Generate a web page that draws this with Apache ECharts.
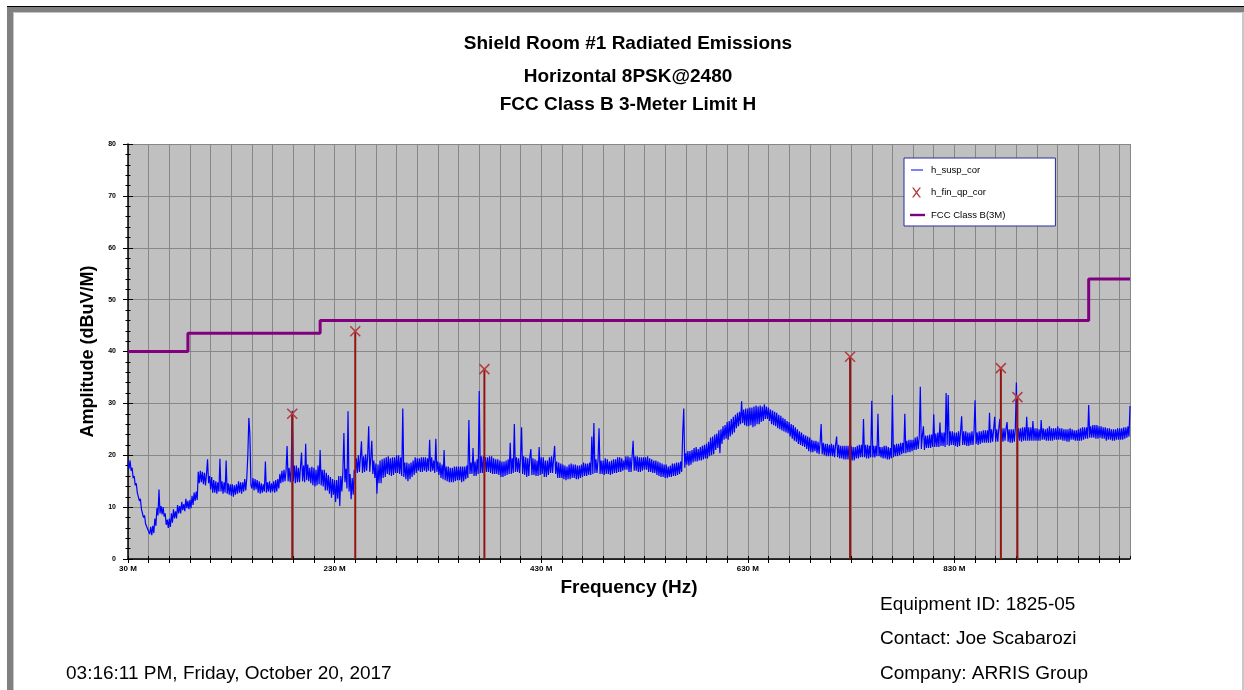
<!DOCTYPE html>
<html>
<head>
<meta charset="utf-8">
<title>Shield Room #1 Radiated Emissions</title>
<script src="https://cdn.jsdelivr.net/npm/echarts@6/dist/echarts.min.js"></script>
<style>
  html, body { margin: 0; padding: 0; background: #fff; }
  #chart { width: 1244px; height: 690px; }
</style>
</head>
<body>
<div id="chart"></div>
<script>
// h_susp_cor: peak trace, one reading per MHz from 30 MHz up to 1000 MHz
// (readings swing between the top and bottom of the noisy band in the picture)
const traceStart = 30
const traceStep = 1
const traceVals = [
  18.6, 17.4, 19.0, 17.0, 17.6, 15.6, 16.0, 14.2, 14.6, 12.8, 13.0, 11.2, 11.6, 9.6, 9.8, 8.0, 8.4, 6.8, 7.0, 5.8,           // 30
  6.0, 4.8, 6.2, 4.6, 6.4, 5.0, 7.8, 6.4, 9.8, 8.4, 13.4, 8.8, 10.2, 8.6, 10.0, 8.2, 8.8, 6.6, 7.6, 6.0,                    // 50
  7.8, 6.2, 8.8, 7.0, 9.6, 7.8, 9.2, 7.8, 10.4, 8.8, 10.2, 8.8, 11.0, 9.4, 10.6, 9.2, 11.6, 9.8, 11.2, 9.6,                 // 70
  11.4, 9.8, 12.2, 10.4, 12.8, 11.2, 13.0, 11.4, 16.8, 14.6, 17.0, 14.8, 16.8, 14.4, 16.6, 14.2, 16.4, 19.2, 14.6, 16.0,    // 90
  13.4, 15.8, 12.8, 15.2, 12.8, 15.0, 12.6, 14.8, 13.0, 19.3, 13.0, 15.0, 12.6, 14.8, 12.8, 19.0, 12.6, 14.6, 12.4, 14.4,   // 110
  12.2, 14.4, 12.0, 14.2, 12.4, 14.4, 12.6, 15.0, 12.8, 14.8, 12.6, 14.8, 13.0, 15.4, 13.2, 15.6, 20.0, 27.2, 24.0, 14.2,   // 130
  13.6, 15.6, 13.2, 15.4, 13.4, 15.2, 12.8, 15.0, 12.6, 14.6, 12.8, 14.4, 13.0, 18.8, 12.8, 14.8, 13.0, 15.0, 12.8, 14.6,   // 150
  13.0, 15.0, 12.8, 15.2, 13.0, 15.4, 13.6, 16.4, 14.6, 17.0, 14.8, 17.2, 15.0, 17.0, 21.8, 15.0, 17.6, 14.8, 17.6, 28.6,   // 170
  15.0, 18.0, 14.6, 18.0, 14.8, 17.6, 14.8, 17.8, 20.5, 15.0, 18.0, 14.8, 22.2, 15.2, 18.2, 15.0, 17.6, 14.6, 17.8, 14.2,   // 190
  17.6, 14.0, 17.2, 14.2, 18.0, 14.4, 21.0, 14.2, 17.2, 14.0, 17.2, 13.2, 16.6, 13.2, 16.2, 12.6, 15.8, 11.8, 15.4, 12.4,   // 210
  15.2, 11.0, 15.2, 11.6, 16.0, 10.2, 16.0, 13.0, 16.8, 24.3, 14.8, 17.4, 13.6, 28.5, 13.0, 16.4, 11.5, 15.6, 12.4, 17.2,   // 230
  16.4, 19.4, 16.6, 20.0, 16.8, 19.6, 22.7, 16.6, 19.8, 16.8, 20.2, 17.0, 19.8, 25.6, 16.8, 19.4, 22.8, 16.4, 19.0, 15.6,   // 250
  18.4, 12.6, 18.2, 14.6, 19.0, 14.6, 19.2, 15.6, 19.4, 15.8, 19.6, 16.4, 19.8, 16.2, 19.4, 16.0, 19.6, 16.2, 19.6, 16.6,   // 270
  20.0, 16.6, 20.0, 16.4, 19.6, 16.0, 29.0, 15.8, 18.6, 15.4, 18.6, 15.0, 18.4, 15.4, 18.6, 15.8, 19.0, 16.2, 19.6, 16.6,   // 290
  19.4, 17.0, 19.4, 16.8, 19.6, 16.8, 19.6, 17.0, 19.6, 16.8, 19.4, 17.0, 23.0, 16.8, 19.6, 17.0, 19.0, 16.6, 23.2, 16.8,   // 310
  18.8, 16.2, 18.6, 15.6, 18.2, 15.4, 21.0, 15.2, 17.8, 15.0, 17.8, 14.8, 17.6, 14.8, 17.6, 14.8, 17.8, 15.0, 17.8, 15.2,   // 330
  17.8, 15.2, 17.8, 14.8, 17.8, 15.0, 17.8, 15.4, 18.0, 15.6, 26.8, 16.4, 18.6, 16.4, 21.4, 16.0, 18.8, 16.0, 19.2, 16.4,   // 350
  32.4, 16.6, 19.8, 16.6, 19.8, 16.6, 19.6, 16.8, 19.6, 16.8, 19.8, 16.6, 19.8, 16.4, 19.4, 16.4, 19.2, 16.4, 19.2, 16.2,   // 370
  19.0, 15.8, 18.8, 15.8, 18.8, 16.0, 19.0, 16.2, 19.2, 16.4, 22.4, 16.4, 19.4, 16.6, 26.0, 16.8, 19.6, 16.8, 19.4, 16.6,   // 390
  19.4, 25.4, 16.4, 19.8, 16.2, 19.6, 15.8, 19.4, 16.0, 19.6, 21.2, 16.2, 19.4, 16.2, 19.2, 16.0, 19.0, 16.0, 21.6, 16.2,   // 410
  19.6, 16.4, 19.6, 15.8, 19.0, 15.8, 19.0, 16.2, 19.6, 16.6, 19.8, 16.6, 19.4, 21.8, 16.4, 18.8, 15.6, 18.6, 15.6, 18.4,   // 430
  15.6, 18.2, 15.4, 18.0, 15.2, 17.8, 15.4, 18.2, 15.4, 18.4, 15.6, 18.2, 15.6, 18.2, 15.4, 18.0, 15.4, 18.0, 15.6, 18.2,   // 450
  15.8, 18.6, 16.0, 18.4, 16.0, 18.4, 16.2, 18.6, 16.2, 23.6, 16.4, 26.2, 16.6, 19.2, 16.6, 19.0, 25.2, 16.4, 19.0, 16.4,   // 470
  19.0, 16.2, 19.4, 16.4, 19.2, 16.4, 18.8, 16.2, 19.0, 16.4, 19.2, 16.6, 19.2, 16.6, 19.6, 16.8, 19.6, 16.8, 19.4, 17.0,   // 490
  19.0, 17.2, 19.8, 17.2, 19.8, 16.8, 19.6, 16.8, 19.8, 22.8, 17.0, 19.8, 17.0, 19.8, 16.8, 19.6, 16.8, 19.6, 17.0, 19.6,   // 510
  17.2, 19.6, 17.2, 19.8, 16.8, 19.4, 16.8, 19.2, 16.6, 19.0, 16.6, 19.0, 16.2, 18.8, 16.0, 18.6, 15.8, 18.4, 15.8, 18.2,   // 530
  15.6, 18.2, 15.6, 17.8, 15.8, 18.0, 15.8, 18.4, 16.0, 18.4, 16.0, 18.6, 16.2, 18.6, 16.4, 18.8, 16.8, 24.3, 29.0, 17.6,   // 550
  20.4, 18.2, 20.8, 18.0, 20.8, 18.2, 21.0, 18.6, 21.4, 18.8, 21.6, 18.8, 21.2, 19.0, 21.6, 19.0, 21.8, 19.2, 22.0, 19.4,   // 570
  22.2, 19.4, 22.6, 19.8, 23.4, 20.0, 23.6, 20.2, 24.0, 21.0, 24.2, 21.4, 24.8, 20.4, 25.0, 22.2, 25.6, 23.0, 25.8, 23.2,   // 590
  26.4, 23.0, 26.6, 23.6, 27.0, 24.0, 27.4, 24.4, 27.8, 25.2, 28.2, 25.6, 28.4, 26.0, 30.4, 26.2, 28.8, 25.8, 29.0, 25.6,   // 610
  29.0, 25.6, 29.2, 25.8, 29.2, 25.4, 29.4, 25.6, 29.6, 26.0, 29.4, 26.0, 29.6, 26.4, 29.4, 26.6, 29.8, 27.0, 29.4, 27.0,   // 630
  29.2, 26.6, 28.8, 26.0, 28.6, 25.8, 28.4, 25.6, 28.2, 25.2, 27.8, 25.0, 27.6, 24.8, 27.2, 24.6, 27.0, 24.4, 26.6, 24.2,   // 650
  26.4, 23.6, 26.0, 23.2, 25.8, 22.8, 25.4, 22.6, 25.0, 22.2, 24.6, 22.0, 24.4, 21.8, 24.0, 21.6, 23.8, 21.2, 23.6, 20.8,   // 670
  23.4, 20.6, 23.0, 20.6, 22.8, 20.8, 22.8, 20.4, 22.6, 20.2, 22.4, 26.0, 20.2, 22.4, 20.0, 22.2, 19.8, 22.2, 19.8, 22.0,   // 690
  19.8, 22.2, 19.8, 22.0, 19.6, 22.0, 23.6, 19.6, 22.0, 19.4, 21.8, 19.4, 21.8, 19.2, 21.8, 19.2, 21.8, 19.2, 21.8, 19.2,   // 710
  21.8, 19.0, 21.6, 19.0, 21.6, 19.4, 21.8, 19.4, 22.0, 19.6, 22.0, 19.6, 27.0, 19.6, 22.0, 19.4, 22.0, 19.4, 21.8, 19.6,   // 730
  30.5, 19.6, 21.8, 19.6, 21.8, 19.8, 28.0, 19.8, 21.6, 19.6, 21.6, 19.4, 21.8, 19.4, 21.8, 19.2, 21.6, 19.2, 21.4, 19.4,   // 750
  31.6, 19.6, 22.0, 19.8, 22.2, 19.8, 22.2, 20.0, 22.4, 20.2, 22.4, 20.4, 28.0, 20.4, 22.8, 20.6, 23.0, 20.6, 23.0, 20.8,   // 770
  23.0, 21.0, 23.4, 21.0, 23.6, 21.2, 23.6, 33.2, 21.2, 23.8, 25.6, 21.0, 23.8, 21.4, 23.8, 21.4, 24.0, 21.4, 24.0, 21.6,   // 790
  27.9, 21.6, 24.2, 21.6, 24.4, 21.6, 26.3, 21.8, 24.4, 21.8, 24.4, 21.6, 32.0, 22.0, 31.6, 21.8, 24.6, 22.0, 24.6, 22.0,   // 810
  24.4, 21.8, 24.4, 21.6, 24.6, 21.8, 24.6, 27.5, 22.0, 24.6, 22.0, 24.6, 21.8, 24.4, 21.8, 24.4, 22.0, 24.6, 22.0, 24.6,   // 830
  30.6, 22.2, 24.4, 22.0, 24.6, 22.2, 24.6, 22.4, 24.8, 22.4, 24.8, 22.4, 24.8, 22.4, 28.2, 22.4, 25.0, 22.6, 25.0, 27.4,   // 850
  22.6, 25.0, 22.6, 25.2, 27.0, 22.6, 25.2, 22.6, 25.2, 22.8, 25.2, 26.4, 22.6, 25.0, 22.4, 25.0, 22.4, 25.0, 22.6, 25.2,   // 870
  34.0, 22.8, 25.2, 22.8, 25.2, 22.6, 25.4, 22.8, 25.4, 22.8, 27.4, 22.8, 25.4, 22.8, 25.4, 22.8, 26.6, 22.8, 25.2, 22.8,   // 890
  25.2, 22.8, 25.0, 22.8, 26.8, 23.0, 25.2, 23.0, 25.0, 22.8, 25.2, 22.8, 25.6, 22.8, 25.2, 22.8, 25.2, 23.0, 25.2, 23.0,   // 910
  25.6, 23.0, 25.2, 23.0, 25.2, 22.8, 25.0, 22.8, 25.0, 22.6, 25.0, 22.6, 25.2, 23.0, 25.0, 23.0, 24.8, 22.8, 24.8, 22.8,   // 930
  25.0, 22.8, 25.2, 22.8, 25.4, 23.0, 25.4, 23.2, 25.4, 23.2, 29.7, 23.4, 25.6, 23.4, 25.8, 23.4, 25.8, 23.2, 25.8, 23.2,   // 950
  25.6, 23.4, 25.6, 23.2, 25.4, 23.2, 25.4, 22.8, 25.2, 23.0, 25.2, 23.0, 25.0, 22.8, 25.0, 22.8, 25.0, 23.0, 25.2, 23.0,   // 970
  25.2, 23.0, 25.2, 23.0, 25.4, 23.2, 25.4, 23.4, 25.6, 23.6, 29.5                                                            // 990
]

// h_fin_qp_cor: final quasi-peak readings
const qpFreqs = [189, 250, 375, 729, 875, 891]
const qpVals = [28.0, 43.9, 36.6, 39.0, 36.8, 31.2]

// FCC Class B 3 m limit: level holds between consecutive break frequencies
const limitFreqs = [30, 88, 216, 960, 1000]
const limitLevels = [40, 43.5, 46, 54]

// labelled frequencies on the x axis (MHz)
const xLabelFreqs = [30, 230, 430, 630, 830]

// the axis runs from 30 MHz; shift it so ticks start at a multiple of the 20 MHz step
const X0 = 30
const X1 = 1000

const fontFamily = '"Liberation Sans", Arial, sans-serif'

const traceData = traceVals.map((v, i) => [traceStart + i * traceStep - X0, v])
const qpData = qpFreqs.map((f, i) => [f - X0, qpVals[i]])
const limitData = []
limitLevels.forEach((lv, i) => {
  limitData.push([limitFreqs[i] - X0, lv])
  limitData.push([limitFreqs[i + 1] - X0, lv])
})

const chart = echarts.init(document.getElementById('chart'), null, { renderer: 'canvas' })

const option = {
  animation: false,
  backgroundColor: '#fff',
  grid: {
    left: 128,
    top: 144,
    width: 1002,
    height: 415,
    show: true,
    backgroundColor: '#c0c0c0',
    borderWidth: 0,
    containLabel: false,
    outerBoundsMode: 'none'
  },
  legend: {
    orient: 'vertical',
    left: 904,
    top: 158,
    padding: [7, 50, 6, 6],
    itemGap: 12.5,
    itemWidth: 16,
    itemHeight: 10,
    backgroundColor: '#fff',
    borderColor: '#2a2aa0',
    borderWidth: 1,
    borderRadius: 0,
    selectedMode: false,
    itemStyle: { borderWidth: 0 },
    textStyle: { fontSize: 9.5, color: '#000', fontFamily: fontFamily },
    data: [
      { name: 'h_susp_cor', icon: 'path://M0,0 M16,10 M1,4.5 L13,4.5 L13,5.5 L1,5.5 Z' },
      { name: 'h_fin_qp_cor', icon: 'path://M0,0 M16,10 M2,0 L3.6,0 L6.5,3.8 L9.4,0 L11,0 L7.3,5 L11,10 L9.4,10 L6.5,6.2 L3.6,10 L2,10 L5.7,5 Z' },
      { name: 'FCC Class B(3M)', icon: 'path://M0,0 M16,10 M0,3.8 L15,3.8 L15,6.2 L0,6.2 Z' }
    ]
  },
  xAxis: [
    {
      type: 'value',
      min: 0,
      max: X1 - X0,
      interval: 20,
      position: 'bottom',
      name: 'Frequency (Hz)',
      nameLocation: 'middle',
      nameGap: 19,
      nameTextStyle: { fontSize: 19, fontWeight: 'bold', color: '#000', fontFamily: fontFamily },
      axisLine: { show: true, onZero: false, lineStyle: { color: '#000', width: 1.5 } },
      axisTick: { show: true, inside: false, length: 4, lineStyle: { color: '#000', width: 1 } },
      axisLabel: {
        margin: 6,
        fontSize: 8,
        fontWeight: 'bold',
        color: '#000',
        fontFamily: fontFamily,
        showMaxLabel: false,
        formatter: function (v) {
          const f = Math.round(v) + X0
          return xLabelFreqs.indexOf(f) >= 0 ? f + ' M' : ''
        }
      },
      splitLine: { show: true, lineStyle: { color: '#878787', width: 1 } }
    },
    {
      type: 'value',
      min: 0,
      max: X1 - X0,
      interval: 20,
      position: 'bottom',
      axisLine: { show: false, onZero: false },
      axisTick: { show: true, inside: true, length: 3, lineStyle: { color: '#000', width: 1 } },
      axisLabel: { show: false },
      splitLine: { show: false }
    }
  ],
  yAxis: [
    {
      type: 'value',
      min: 0,
      max: 80,
      interval: 10,
      position: 'left',
      name: 'Amplitude (dBuV/M)',
      nameLocation: 'middle',
      nameGap: 31,
      nameTextStyle: { fontSize: 18, fontWeight: 'bold', color: '#000', fontFamily: fontFamily },
      axisLine: { show: true, onZero: false, lineStyle: { color: '#000', width: 1.5 } },
      axisTick: { show: true, inside: false, length: 5, lineStyle: { color: '#000', width: 1 } },
      minorTick: { show: true, splitNumber: 5, length: 2.5, lineStyle: { color: '#000', width: 1 } },
      axisLabel: { margin: 12, fontSize: 7, fontWeight: 'bold', color: '#000', fontFamily: fontFamily },
      splitLine: { show: true, lineStyle: { color: '#878787', width: 1 } }
    },
    {
      type: 'value',
      min: 0,
      max: 80,
      interval: 10,
      position: 'left',
      axisLine: { show: false, onZero: false },
      axisTick: { show: true, inside: true, length: 5, lineStyle: { color: '#000', width: 1 } },
      minorTick: { show: true, splitNumber: 5, length: 2.5, lineStyle: { color: '#000', width: 1 } },
      axisLabel: { show: false },
      splitLine: { show: false }
    }
  ],
  series: [
    {
      name: 'h_susp_cor',
      type: 'line',
      data: traceData,
      showSymbol: false,
      symbol: 'none',
      sampling: null,
      color: '#0000ff',
      lineStyle: { color: '#0000ff', width: 1.2 },
      z: 3
    },
    {
      name: 'FCC Class B(3M)',
      type: 'line',
      data: limitData,
      symbol: 'none',
      color: '#800080',
      lineStyle: { color: '#800080', width: 3 },
      z: 4
    },
    {
      name: 'h_fin_qp_cor',
      type: 'custom',
      data: qpData,
      encode: { x: 0, y: 1 },
      itemStyle: { color: '#b43c3c' },
      z: 5,
      renderItem: function (params, api) {
        const top = api.coord([api.value(0), api.value(1)])
        const base = api.coord([api.value(0), 0])
        return {
          type: 'group',
          children: [
            {
              type: 'line',
              shape: { x1: top[0], y1: top[1], x2: base[0], y2: base[1] },
              style: { stroke: '#941414', lineWidth: 2 }
            },
            {
              type: 'path',
              shape: {
                pathData: 'M0,0 L10,10 M10,0 L0,10',
                x: top[0] - 5,
                y: top[1] - 5,
                width: 10,
                height: 10
              },
              style: { stroke: '#b43c3c', lineWidth: 1.5, fill: null }
            }
          ]
        }
      }
    }
  ],
  graphic: [
    // page frame
    { type: 'rect', shape: { x: 7, y: 6, width: 1237, height: 1 }, style: { fill: '#000' }, silent: true },
    { type: 'rect', shape: { x: 7, y: 7, width: 1237, height: 5 }, style: { fill: '#808080' }, silent: true },
    { type: 'rect', shape: { x: 7, y: 7, width: 6, height: 683 }, style: { fill: '#808080' }, silent: true },
    { type: 'rect', shape: { x: 13, y: 12, width: 1, height: 678 }, style: { fill: '#c4c4c4' }, silent: true },
    { type: 'rect', shape: { x: 13, y: 12, width: 1229, height: 1 }, style: { fill: '#c4c4c4' }, silent: true },
    { type: 'rect', shape: { x: 1242, y: 12, width: 2, height: 678 }, style: { fill: '#c8c8c8' }, silent: true },
    // titles
    { type: 'text', x: 628, y: 44, style: { text: 'Shield Room #1 Radiated Emissions', font: 'bold 19px ' + fontFamily, fill: '#000', align: 'center', verticalAlign: 'middle' } },
    { type: 'text', x: 628, y: 77, style: { text: 'Horizontal 8PSK@2480', font: 'bold 19px ' + fontFamily, fill: '#000', align: 'center', verticalAlign: 'middle' } },
    { type: 'text', x: 628, y: 105, style: { text: 'FCC Class B 3-Meter Limit H', font: 'bold 19px ' + fontFamily, fill: '#000', align: 'center', verticalAlign: 'middle' } },
    // footer
    { type: 'text', x: 66, y: 674, style: { text: '03:16:11 PM, Friday, October 20, 2017', font: '19px ' + fontFamily, fill: '#000', align: 'left', verticalAlign: 'middle' } },
    { type: 'text', x: 880, y: 605, style: { text: 'Equipment ID: 1825-05', font: '19px ' + fontFamily, fill: '#000', align: 'left', verticalAlign: 'middle' } },
    { type: 'text', x: 880, y: 639, style: { text: 'Contact: Joe Scabarozi', font: '19px ' + fontFamily, fill: '#000', align: 'left', verticalAlign: 'middle' } },
    { type: 'text', x: 880, y: 674, style: { text: 'Company: ARRIS Group', font: '19px ' + fontFamily, fill: '#000', align: 'left', verticalAlign: 'middle' } }
  ]
}

chart.setOption(option)
</script>
</body>
</html>
